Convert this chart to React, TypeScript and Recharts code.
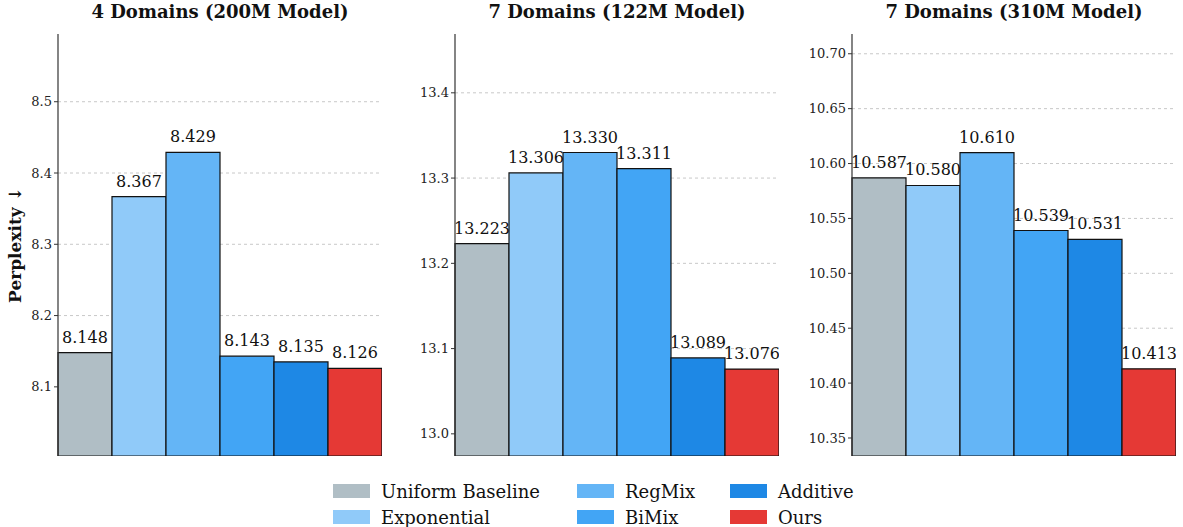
import React from "react";
import { BarChart, Bar, XAxis, YAxis, CartesianGrid, Cell, LabelList } from "recharts";

const methods = ["Uniform Baseline", "Exponential", "RegMix", "BiMix", "Additive", "Ours"];
const colors = ["#B0BEC5", "#90CAF9", "#64B5F6", "#42A5F5", "#1E88E5", "#E53935"];

const domains4x200M = [8.148, 8.367, 8.429, 8.143, 8.135, 8.126];
const domains7x122M = [13.223, 13.306, 13.33, 13.311, 13.089, 13.076];
const domains7x310M = [10.587, 10.58, 10.61, 10.539, 10.531, 10.413];

const ticks4x200M = [8.1, 8.2, 8.3, 8.4, 8.5];
const ticks7x122M = [13.0, 13.1, 13.2, 13.3, 13.4];
const ticks7x310M = [10.35, 10.4, 10.45, 10.5, 10.55, 10.6, 10.65, 10.7];

const FONT = "'DejaVu Serif', serif";

type PanelProps = {
  title: string;
  values: number[];
  ticks: number[];
  domain: [number, number];
  decimals: number;
  left: number;
};

function Panel({ title, values, ticks, domain, decimals, left }: PanelProps) {
  const data = methods.map((m, i) => ({ method: m, value: values[i] }));
  const axisW = 52;
  const plotW = 324;
  return (
    <div style={{ position: "absolute", left: left - axisW, top: 0 }}>
      <div
        style={{
          position: "absolute",
          left: axisW,
          width: plotW,
          top: 1,
          textAlign: "center",
          fontFamily: FONT,
          fontWeight: "bold",
          fontSize: 18,
          color: "#111",
          whiteSpace: "nowrap",
        }}
      >
        {title}
      </div>
      <BarChart
        width={axisW + plotW}
        height={456}
        data={data}
        margin={{ top: 34, right: 0, left: 0, bottom: 0 }}
        barCategoryGap={0}
        barGap={0}
      >
        <CartesianGrid vertical={false} horizontalValues={ticks} stroke="#c8c8c8" strokeDasharray="3 3" />
        <XAxis dataKey="method" hide />
        <YAxis
          width={axisW}
          type="number"
          domain={domain}
          allowDataOverflow
          ticks={ticks}
          interval={0}
          tickFormatter={(v: number) => v.toFixed(decimals)}
          tick={{ fontFamily: FONT, fontSize: 13, fill: "#222" }}
          tickSize={4}
          axisLine={{ stroke: "#333", strokeWidth: 1.2 }}
          tickLine={{ stroke: "#333" }}
        />
        <Bar dataKey="value" stroke="#111" strokeWidth={1.2} isAnimationActive={false}>
          {data.map((d, i) => (
            <Cell key={d.method} fill={colors[i]} />
          ))}
          <LabelList
            dataKey="value"
            position="top"
            offset={10}
            formatter={(v: number) => v.toFixed(3)}
            style={{ fontFamily: FONT, fontSize: 16, fill: "#111" }}
          />
        </Bar>
      </BarChart>
    </div>
  );
}

export default function App() {
  return (
    <div style={{ position: "absolute", left: 0, top: 0, width: 1183, height: 527, background: "#fff" }}>
      <div
        style={{
          position: "absolute",
          left: 15,
          top: 245,
          transform: "translate(-50%, -50%) rotate(-90deg)",
          fontFamily: FONT,
          fontWeight: "bold",
          fontSize: 17,
          whiteSpace: "nowrap",
          color: "#111",
        }}
      >
        Perplexity ↓
      </div>
      <Panel title="4 Domains (200M Model)" values={domains4x200M} ticks={ticks4x200M} domain={[8.003, 8.595]} decimals={1} left={58} />
      <Panel title="7 Domains (122M Model)" values={domains7x122M} ticks={ticks7x122M} domain={[12.974, 13.469]} decimals={1} left={455} />
      <Panel title="7 Domains (310M Model)" values={domains7x310M} ticks={ticks7x310M} domain={[10.3336, 10.718]} decimals={2} left={852} />
      <div
        style={{
          position: "absolute",
          left: 333,
          top: 478,
          display: "grid",
          gridTemplateColumns: "244px 153px 160px",
          gridAutoFlow: "column",
          gridTemplateRows: "26px 26px",
          fontFamily: FONT,
          fontSize: 18,
          color: "#111",
        }}
      >
        {methods.map((m, i) => (
          <div key={m} style={{ display: "flex", alignItems: "center" }}>
            <span style={{ display: "inline-block", width: 37, height: 14, background: colors[i], marginRight: 11, flexShrink: 0 }} />
            <span>{m}</span>
          </div>
        ))}
      </div>
    </div>
  );
}
